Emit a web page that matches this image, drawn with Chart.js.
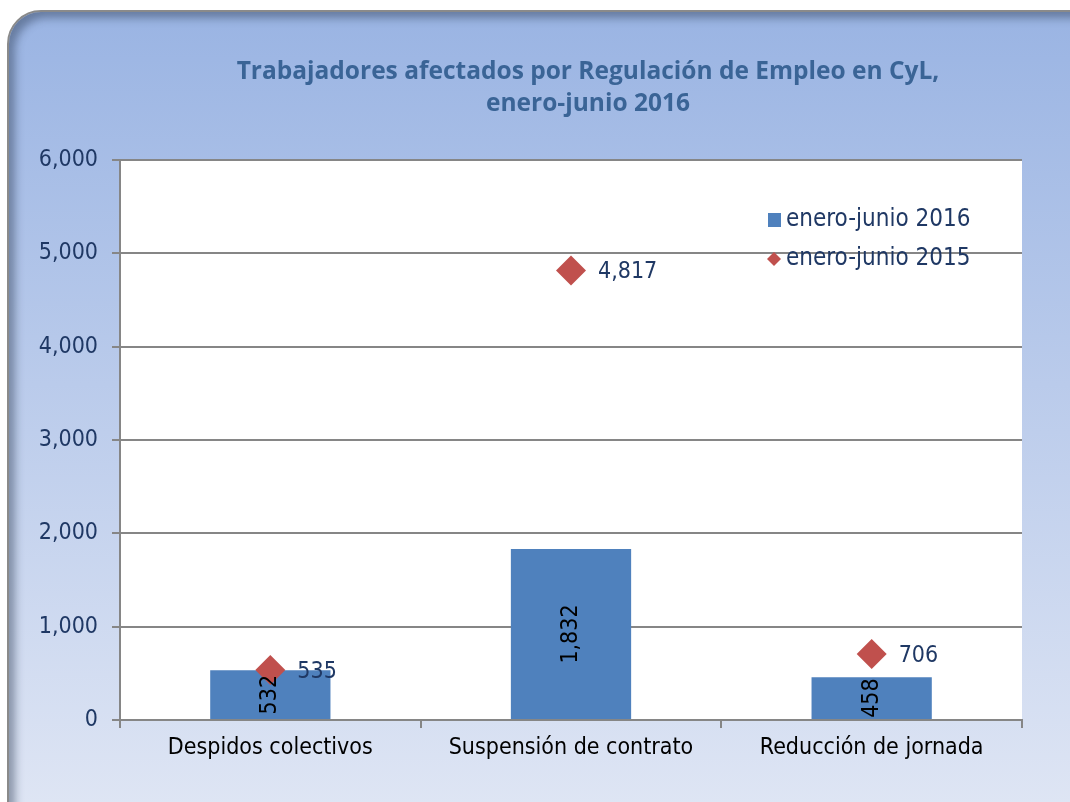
<!DOCTYPE html>
<html>
<head>
<meta charset="utf-8">
<script src="https://cdn.jsdelivr.net/npm/chart.js@4"></script>
<style>
  html, body { margin: 0; padding: 0; background: #fff; overflow: hidden; }
  #frame {
    position: absolute; left: 7px; top: 10px; width: 1110px; height: 860px;
    border: 2px solid #8a8a8a; border-radius: 34px;
    background: linear-gradient(#9ab4e3, #dee5f4 92%);
    box-shadow: inset 6px 6px 8px rgba(40,55,80,0.45);
  }
  #wrap { position: absolute; left: 0; top: 0; width: 1070px; height: 802px; }
</style>
</head>
<body>
<div id="frame"></div>
<div id="wrap"><canvas id="chart" width="1070" height="802"></canvas></div>
<script>
const categorias = ['Despidos colectivos', 'Suspensión de contrato', 'Reducción de jornada'];
const serie2016 = [532, 1832, 458];
const serie2015 = [535, 4817, 706];
const nombres = ['enero-junio 2016', 'enero-junio 2015'];
const titulo = ['Trabajadores afectados por Regulación de Empleo en CyL,', 'enero-junio 2016'];
const ejeY = { min: 0, max: 6000, paso: 1000 };

const fmt = v => v.toLocaleString('en-US');
const fuente = 'DejaVu Sans Condensed';

// white plot area + title + legend + value labels
const extras = {
    id: 'extras',
    beforeDraw(chart) {
        const { ctx, chartArea: a } = chart;
        ctx.save();
        ctx.fillStyle = '#ffffff';
        ctx.fillRect(a.left, a.top, a.right - a.left, a.bottom - a.top);
        ctx.fillStyle = '#3a6496';
        ctx.font = 'bold 24.5px "Open Sans"';
        ctx.textAlign = 'center';
        ctx.textBaseline = 'middle';
        ctx.fillText(titulo[0], 588, 72);
        ctx.fillText(titulo[1], 588, 104);
        ctx.restore();
    },
    afterDatasetsDraw(chart) {
        const { ctx, chartArea: a } = chart;
        ctx.save();
        ctx.font = '23px "' + fuente + '"';
        // bar labels, rotated
        const barras = chart.getDatasetMeta(0);
        barras.data.forEach((el, i) => {
            const cy = (el.y + el.base) / 2;
            ctx.save();
            ctx.translate(el.x, cy);
            ctx.rotate(-Math.PI / 2);
            ctx.fillStyle = '#000';
            ctx.textAlign = 'center';
            ctx.textBaseline = 'middle';
            ctx.fillText(fmt(chart.data.datasets[0].data[i]), 0, 0);
            ctx.restore();
        });
        // point labels, to the right
        const puntos = chart.getDatasetMeta(1);
        puntos.data.forEach((el, i) => {
            ctx.fillStyle = '#1f3864';
            ctx.textAlign = 'left';
            ctx.textBaseline = 'middle';
            ctx.fillText(fmt(chart.data.datasets[1].data[i]), el.x + 27, el.y + 2);
        });
        // legend
        const lx = a.right - 254, ly = a.top + 60;
        ctx.fillStyle = '#4f81bd';
        ctx.fillRect(lx, ly - 7, 13, 14);
        ctx.fillStyle = '#c0504d';
        ctx.beginPath();
        ctx.moveTo(lx + 6, ly + 32);
        ctx.lineTo(lx + 13, ly + 39);
        ctx.lineTo(lx + 6, ly + 46);
        ctx.lineTo(lx - 1, ly + 39);
        ctx.closePath();
        ctx.fill();
        ctx.font = '24px "' + fuente + '"';
        ctx.fillStyle = '#1f3864';
        ctx.textAlign = 'left';
        ctx.textBaseline = 'middle';
        ctx.fillText(nombres[0], lx + 18, ly);
        ctx.fillText(nombres[1], lx + 18, ly + 39);
        ctx.restore();
    }
};

new Chart(document.getElementById('chart'), {
    data: {
        labels: categorias,
        datasets: [{
            type: 'bar',
            label: nombres[0],
            data: serie2016,
            backgroundColor: '#4f81bd',
            barPercentage: 0.4,
            categoryPercentage: 1,
            order: 1
        }, {
            type: 'line',
            label: nombres[1],
            data: serie2015,
            showLine: false,
            pointStyle: 'rectRot',
            pointRadius: 15,
            pointBackgroundColor: '#c0504d',
            pointBorderColor: '#c0504d',
            pointBorderWidth: 0,
            order: 0
        }]
    },
    options: {
        responsive: false,
        animation: false,
        layout: { padding: { top: 160, right: 48, left: 0, bottom: 0 } },
        plugins: {
            legend: { display: false },
            tooltip: { enabled: false }
        },
        scales: {
            x: {
                grid: { offset: true, drawOnChartArea: false, drawTicks: true, tickLength: 8, color: '#868686', lineWidth: 2 },
                border: { color: '#868686', width: 2 },
                ticks: { color: '#000', font: { family: fuente, size: 23 }, padding: 6 },
                afterFit(s) { s.height = 82; }
            },
            y: {
                min: ejeY.min, max: ejeY.max,
                grid: { color: '#868686', lineWidth: 2, tickLength: 8 },
                border: { color: '#868686', width: 2 },
                ticks: { stepSize: ejeY.paso, color: '#1f3864', font: { family: fuente, size: 23 }, padding: 14, callback: v => fmt(v) },
                afterFit(s) { s.width = 120; }
            }
        }
    },
    plugins: [extras]
});
</script>
</body>
</html>
